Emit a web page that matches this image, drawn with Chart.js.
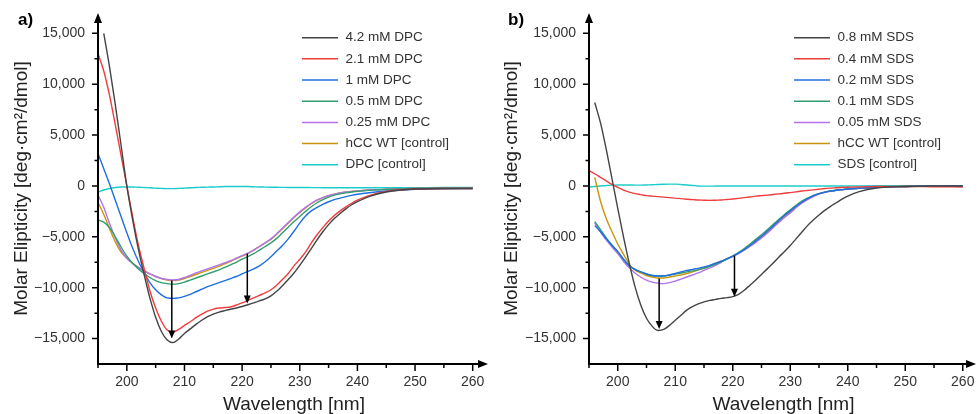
<!DOCTYPE html>
<html>
<head>
<meta charset="utf-8">
<script src="https://cdn.jsdelivr.net/npm/chart.js@4.4.0/dist/chart.umd.min.js"></script>
<style>
  html, body { margin: 0; padding: 0; background: #fff; }
  #wrap { position: relative; width: 978px; height: 414px; }
  canvas { position: absolute; top: 0; }
</style>
</head>
<body>
<div id="wrap">
  <canvas id="chartA" width="490" height="414" style="left:0"></canvas>
  <canvas id="chartB" width="488" height="414" style="left:490px"></canvas>
</div>
<script>
// wavelength grid [nm]
const wavelength = [195, 196, 197, 198, 199, 200, 201, 202, 203, 204, 205, 206, 207, 208, 209, 210,
  211, 212, 213, 214, 215, 216, 217, 218, 219, 220, 221, 222, 223, 224, 225, 226, 227, 228, 229, 230,
  231, 232, 233, 234, 235, 236, 237, 238, 239, 240, 242, 245, 250, 255, 260];

// tick labels
const xTicks = [200, 210, 220, 230, 240, 250, 260];
const yTicks = [-15000, -10000, -5000, 0, 5000, 10000, 15000];

// panel a) DPC titration
const dpc42 = [null, 15000, 11700, 8000, 4000, 0, -3300, -6200, -8700, -11000, -12900, -14300, -15150, -15400, -15050, -14500,
  -14050, -13600, -13200, -12850, -12600, -12400, -12250, -12120, -12000, -11850, -11680, -11500, -11300, -11100, -10800, -10350,
  -9800, -9200, -8550, -7800, -7000, -6150, -5300, -4500, -3800, -3200, -2700, -2250, -1850, -1550, -1050, -600, -300, -250, -250];
const dpc21 = [13000, 11300, 8900, 6000, 3000, 0, -3000, -5800, -8100, -10300, -12000, -13300, -14150, -14350, -14100, -13700,
  -13350, -12950, -12600, -12300, -12100, -12000, -11950, -11900, -11700, -11500, -11250, -11000, -10750, -10500, -10200, -9750,
  -9200, -8600, -7850, -7200, -6500, -5600, -4800, -4100, -3450, -2900, -2450, -2050, -1700, -1400, -950, -550, -300, -250, -250];
const dpc1 = [3200, 1700, 200, -1400, -3000, -4600, -6100, -7400, -8500, -9500, -10200, -10700, -11000, -11050, -11000, -10850,
  -10650, -10400, -10150, -9900, -9700, -9500, -9300, -9100, -8900, -8650, -8400, -8150, -7850, -7450, -6950, -6400,
  -5850, -5200, -4450, -3650, -2950, -2450, -2100, -1800, -1550, -1350, -1200, -1050, -920, -820, -670, -500, -330, -280, -250];
const dpc05 = [-3350, -3550, -4100, -5000, -6000, -6900, -7600, -8150, -8600, -9000, -9300, -9500, -9600, -9650, -9600, -9450,
  -9250, -9050, -8850, -8650, -8450, -8250, -8000, -7750, -7500, -7200, -6950, -6650, -6300, -5950, -5600, -5150,
  -4600, -4050, -3500, -3000, -2500, -2050, -1650, -1350, -1100, -900, -780, -680, -600, -530, -430, -350, -250, -230, -230];
const dpc025 = [-900, -2100, -3700, -5100, -6300, -7100, -7600, -8000, -8350, -8650, -8900, -9100, -9200, -9250, -9200, -9000,
  -8800, -8550, -8350, -8150, -7950, -7750, -7550, -7350, -7100, -6850, -6600, -6300, -5950, -5600, -5200, -4700,
  -4150, -3600, -3050, -2550, -2100, -1700, -1400, -1150, -950, -800, -680, -600, -540, -480, -400, -330, -250, -230, -230];
const hccA = [-1600, -2800, -4200, -5500, -6500, -7100, -7600, -8000, -8350, -8650, -8900, -9100, -9250, -9300, -9250, -9100,
  -8900, -8700, -8500, -8300, -8100, -7900, -7650, -7400, -7150, -6900, -6650, -6300, -5950, -5600, -5250, -4750,
  -4200, -3650, -3100, -2600, -2150, -1750, -1400, -1150, -950, -800, -680, -600, -540, -480, -400, -330, -250, -230, -230];
const dpcCtrl = [-600, -400, -250, -150, -100, -100, -100, -120, -150, -180, -210, -240, -260, -260, -240, -210,
  -180, -150, -130, -110, -100, -80, -60, -50, -50, -50, -60, -80, -100, -110, -120, -130,
  -140, -150, -150, -150, -150, -160, -160, -170, -170, -170, -180, -180, -180, -180, -180, -180, -170, -150, -150];

// panel b) SDS titration
const sds08 = [null, 8200, 6200, 3600, 700, -2200, -5000, -7600, -9900, -11700, -13000, -13800, -14200, -14100, -13700, -13200,
  -12700, -12200, -11850, -11600, -11400, -11250, -11150, -11050, -10980, -10880, -10650, -10250, -9750, -9250, -8700, -8150,
  -7600, -7000, -6450, -5850, -5200, -4550, -3900, -3350, -2850, -2400, -2000, -1650, -1300, -1000, -550, -200, -50, 0, 0];
const sds04 = [1500, 1200, 850, 500, 150, -150, -400, -600, -750, -850, -950, -1000, -1050, -1100, -1150, -1200,
  -1250, -1300, -1340, -1380, -1400, -1420, -1400, -1380, -1330, -1280, -1220, -1150, -1080, -1000, -950, -900,
  -840, -780, -720, -650, -580, -500, -440, -380, -320, -250, -210, -180, -150, -120, -90, -60, -50, -80, -100];
const sds02 = [null, -3900, -4500, -5200, -5850, -6450, -7200, -7850, -8200, -8450, -8650, -8800, -8850, -8850, -8750, -8600,
  -8450, -8300, -8200, -8100, -7950, -7800, -7600, -7400, -7150, -6900, -6600, -6250, -5850, -5400, -4950, -4450,
  -3950, -3400, -2900, -2450, -2000, -1600, -1250, -950, -750, -600, -500, -420, -360, -300, -230, -120, -50, 0, 0];
const sds01 = [null, -3500, -4300, -5100, -5800, -6450, -7200, -7850, -8200, -8450, -8650, -8800, -8850, -8850, -8750, -8650,
  -8550, -8450, -8350, -8250, -8100, -7900, -7700, -7450, -7200, -6900, -6550, -6150, -5700, -5250, -4800, -4300,
  -3800, -3300, -2800, -2350, -1900, -1500, -1200, -950, -750, -600, -500, -420, -360, -300, -230, -120, -50, 0, 0];
const sds005 = [null, -3650, -4500, -5300, -6000, -6650, -7400, -8050, -8550, -8950, -9250, -9450, -9550, -9600, -9500, -9350,
  -9150, -8950, -8750, -8550, -8300, -8050, -7800, -7500, -7200, -6950, -6650, -6300, -5950, -5550, -5100, -4650,
  -4100, -3600, -3100, -2650, -2150, -1700, -1350, -1050, -800, -640, -520, -430, -370, -310, -230, -120, -50, 0, 0];
const hccB = [null, 850, -1500, -3200, -4500, -5700, -6700, -7700, -8250, -8550, -8800, -8950, -9050, -9050, -8950, -8850,
  -8750, -8600, -8450, -8250, -8050, -7850, -7600, -7400, -7150, -6900, -6600, -6250, -5850, -5450, -5000, -4550,
  -4050, -3500, -3000, -2600, -2100, -1650, -1300, -1000, -780, -620, -500, -420, -360, -300, -230, -120, -50, 0, 0];
const sdsCtrl = [-100, -50, 0, 50, 80, 100, 100, 100, 80, 80, 100, 120, 150, 170, 180, 180,
  150, 100, 50, 0, -20, -20, -10, 0, 0, 0, 0, 0, 0, 0, 0, 0,
  0, 0, 0, 0, 0, 0, 0, 0, 0, 0, 0, 0, 0, 0, 10, 20, 30, 30, 30];

const labelsA = ["4.2 mM DPC", "2.1 mM DPC", "1 mM DPC", "0.5 mM DPC", "0.25 mM DPC", "hCC WT [control]", "DPC [control]"];
const labelsB = ["0.8 mM SDS", "0.4 mM SDS", "0.2 mM SDS", "0.1 mM SDS", "0.05 mM SDS", "hCC WT [control]", "SDS [control]"];
const seriesColors = ["#444444", "#f03c3c", "#1f6fe0", "#2f9e6e", "#b272ea", "#c8950c", "#1ccccc"];

// arrows marking the change at the two minima (x in nm, from/to in deg·cm²/dmol)
const arrowsA = [{ x: 207.8, from: -9300, to: -15000 }, { x: 220.9, from: -6650, to: -11550 }];
const arrowsB = [{ x: 207.2, from: -9100, to: -14050 }, { x: 220.3, from: -6850, to: -10900 }];

const FONT = "'Liberation Sans', Arial, sans-serif";
const fmt = v => (v < 0 ? "\u2212" : "") + Math.abs(v).toLocaleString("en-US");

const cdDecor = {
  id: "cdDecor",
  afterDraw(chart, args, opts) {
    const { ctx, chartArea: area, scales: { x, y } } = chart;
    ctx.save();

    // vertical arrows
    ctx.strokeStyle = "#000";
    ctx.fillStyle = "#000";
    ctx.lineWidth = 1.5;
    opts.arrows.forEach(a => {
      const px = x.getPixelForValue(a.x);
      const y0 = y.getPixelForValue(a.from);
      const y1 = y.getPixelForValue(a.to);
      ctx.beginPath();
      ctx.moveTo(px, y0);
      ctx.lineTo(px, y1 - 5);
      ctx.stroke();
      ctx.beginPath();
      ctx.moveTo(px, y1);
      ctx.lineTo(px - 3.5, y1 - 8);
      ctx.lineTo(px + 3.5, y1 - 8);
      ctx.closePath();
      ctx.fill();
    });

    // axes with arrow heads
    ctx.lineWidth = 2;
    ctx.beginPath();
    ctx.moveTo(area.left, area.bottom);
    ctx.lineTo(area.left, area.top + 6);
    ctx.moveTo(area.left - 1, area.bottom);
    ctx.lineTo(area.right - 6, area.bottom);
    ctx.stroke();
    ctx.beginPath();
    ctx.moveTo(area.left, area.top);
    ctx.lineTo(area.left - 4, area.top + 10);
    ctx.lineTo(area.left + 4, area.top + 10);
    ctx.closePath();
    ctx.fill();
    ctx.beginPath();
    ctx.moveTo(area.right - 2, area.bottom);
    ctx.lineTo(area.right - 12, area.bottom - 4);
    ctx.lineTo(area.right - 12, area.bottom + 4);
    ctx.closePath();
    ctx.fill();

    // major / minor ticks
    ctx.lineWidth = 1.5;
    ctx.beginPath();
    for (let v = 195; v <= 260; v += 5) {
      const px = x.getPixelForValue(v);
      ctx.moveTo(px, area.bottom);
      ctx.lineTo(px, area.bottom + (v % 10 === 0 ? 7 : 4));
    }
    for (let v = -15000; v <= 15000; v += 2500) {
      const py = y.getPixelForValue(v);
      ctx.moveTo(area.left, py);
      ctx.lineTo(area.left - (v % 5000 === 0 ? 6 : 3.5), py);
    }
    ctx.stroke();

    // legend
    ctx.font = "13.5px " + FONT;
    ctx.textBaseline = "middle";
    ctx.textAlign = "left";
    chart.data.datasets.forEach((ds, i) => {
      const ly = opts.legendTop + i * 21.17;
      ctx.strokeStyle = ds.borderColor;
      ctx.lineWidth = 1.5;
      ctx.beginPath();
      ctx.moveTo(opts.legendX, ly);
      ctx.lineTo(opts.legendX + 36, ly);
      ctx.stroke();
      ctx.fillStyle = "#333";
      ctx.fillText(ds.label, opts.legendX + 43.5, ly);
    });

    // panel letter
    ctx.fillStyle = "#000";
    ctx.font = "bold 17px " + FONT;
    ctx.fillText(opts.panel, 18, 20);
    ctx.restore();
  }
};

function makeChart(id, series, labels, arrows, axisWidth, xMax, legendX, panel) {
  return new Chart(document.getElementById(id), {
    type: "line",
    data: {
      labels: wavelength,
      datasets: series.map((s, i) => ({
        label: labels[i],
        data: wavelength.map((w, j) => ({ x: w, y: s[j] })),
        borderColor: seriesColors[i],
        borderWidth: 1.4,
        pointRadius: 0,
        fill: false,
        cubicInterpolationMode: "monotone"
      }))
    },
    options: {
      responsive: false,
      animation: false,
      devicePixelRatio: 1,
      layout: { padding: { top: 13, left: 0, right: 0, bottom: 0 } },
      plugins: {
        legend: { display: false },
        tooltip: { enabled: false },
        cdDecor: { arrows, legendX, legendTop: 37.7, panel }
      },
      scales: {
        x: {
          type: "linear",
          min: 195,
          max: xMax,
          afterFit: s => { s.height = 50; s.paddingLeft = 0; s.paddingRight = 0; },
          afterBuildTicks: s => { s.ticks = xTicks.map(v => ({ value: v })); },
          grid: { display: false, drawTicks: false },
          border: { display: false },
          ticks: {
            padding: 10,
            maxRotation: 0,
            autoSkip: false,
            color: "#333",
            font: { family: FONT, size: 14 }
          },
          title: {
            display: true,
            text: "Wavelength [nm]",
            color: "#222",
            font: { family: FONT, size: 19, lineHeight: 1 },
            padding: { top: 0, bottom: 0 }
          }
        },
        y: {
          min: -17500,
          max: 17000,
          afterFit: s => { s.width = axisWidth; s.paddingTop = 0; s.paddingBottom = 0; },
          afterBuildTicks: s => { s.ticks = yTicks.map(v => ({ value: v })); },
          grid: { display: false, drawTicks: false },
          border: { display: false },
          ticks: {
            padding: 13,
            autoSkip: false,
            color: "#333",
            font: { family: FONT, size: 14 },
            callback: v => fmt(v)
          },
          title: {
            display: true,
            text: "Molar Elipticity [deg·cm²/dmol]",
            color: "#222",
            font: { family: FONT, size: 19, lineHeight: 1.2 },
            padding: { top: 10, bottom: 0 }
          }
        }
      }
    },
    plugins: [cdDecor]
  });
}

makeChart("chartA", [dpc42, dpc21, dpc1, dpc05, dpc025, hccA, dpcCtrl], labelsA, arrowsA, 98, 263, 302, "a)");
makeChart("chartB", [sds08, sds04, sds02, sds01, sds005, hccB, sdsCtrl], labelsB, arrowsB, 99, 262.65, 304, "b)");
</script>
</body>
</html>
